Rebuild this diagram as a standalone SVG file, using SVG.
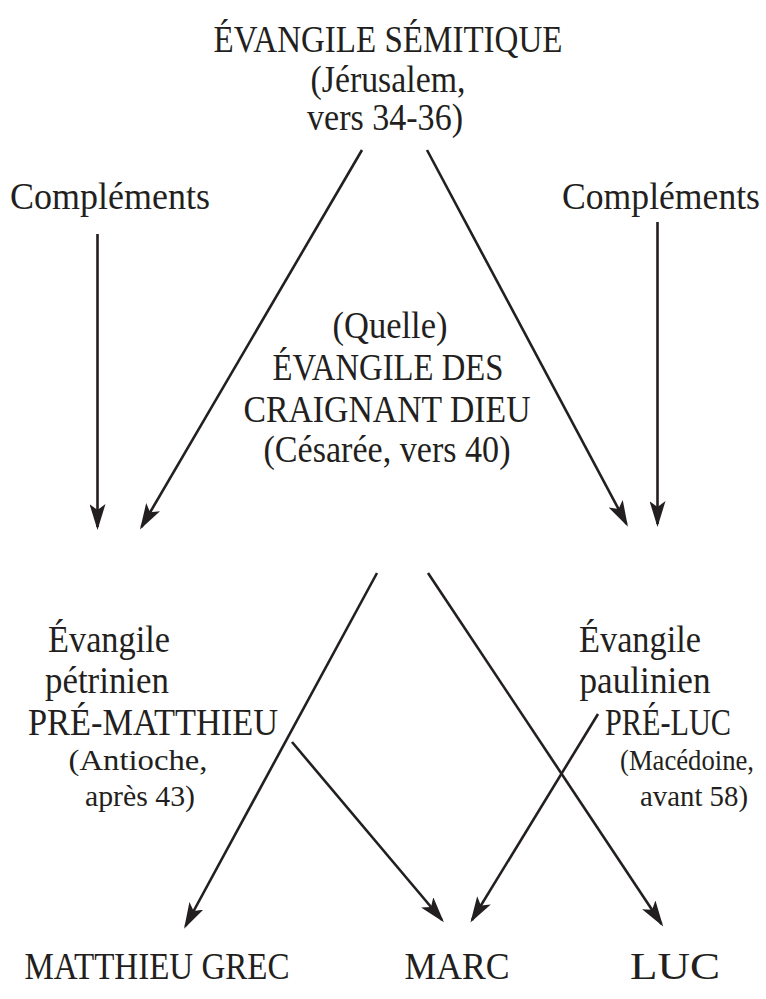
<svg xmlns="http://www.w3.org/2000/svg" width="766" height="999" viewBox="0 0 766 999">
<style>
  text { font-family: "Liberation Serif", "Times New Roman", serif; fill: #231f20; text-anchor: middle; }
  .t { font-size: 37px; }
  .s { font-size: 29px; }
  .c line { stroke: #231f20; stroke-width: 2.6; marker-end: url(#ah); }
</style>
<defs>
  <marker id="ah" markerUnits="userSpaceOnUse" markerWidth="27" markerHeight="16" refX="23" refY="8" orient="auto" viewBox="0 0 27 16">
    <path d="M0,0 L26,8 L0,16 L6,8 Z" fill="#231f20"/>
  </marker>
</defs>
<rect width="766" height="999" fill="#ffffff"/>
<g id="semitique">
  <text class="t" x="388" y="52" textLength="349" lengthAdjust="spacingAndGlyphs">ÉVANGILE SÉMITIQUE</text>
  <text class="t" x="388" y="92" textLength="155" lengthAdjust="spacingAndGlyphs">(Jérusalem,</text>
  <text class="t" x="385" y="130" textLength="156" lengthAdjust="spacingAndGlyphs">vers 34-36)</text>
</g>
<g id="complements-gauche">
  <text class="t" x="110" y="209" textLength="200" lengthAdjust="spacingAndGlyphs">Compléments</text>
</g>
<g id="complements-droite">
  <text class="t" x="661" y="209" textLength="198" lengthAdjust="spacingAndGlyphs">Compléments</text>
</g>
<g id="quelle">
  <text class="t" x="390" y="338" textLength="115" lengthAdjust="spacingAndGlyphs">(Quelle)</text>
  <text class="t" x="388" y="380" textLength="231" lengthAdjust="spacingAndGlyphs">ÉVANGILE DES</text>
  <text class="t" x="387" y="422" textLength="287" lengthAdjust="spacingAndGlyphs">CRAIGNANT DIEU</text>
  <text class="t" x="387" y="462" textLength="247" lengthAdjust="spacingAndGlyphs">(Césarée, vers 40)</text>
</g>
<g id="pre-matthieu">
  <text class="t" x="109" y="652" textLength="122" lengthAdjust="spacingAndGlyphs">Évangile</text>
  <text class="t" x="107" y="693" textLength="124" lengthAdjust="spacingAndGlyphs">pétrinien</text>
  <text class="t" x="153" y="735" textLength="250" lengthAdjust="spacingAndGlyphs">PRÉ-MATTHIEU</text>
  <text class="s" x="138" y="770" textLength="139" lengthAdjust="spacingAndGlyphs">(Antioche,</text>
  <text class="s" x="140" y="806" textLength="110" lengthAdjust="spacingAndGlyphs">après 43)</text>
</g>
<g id="pre-luc">
  <text class="t" x="640" y="652" textLength="122" lengthAdjust="spacingAndGlyphs">Évangile</text>
  <text class="t" x="645" y="693" textLength="131" lengthAdjust="spacingAndGlyphs">paulinien</text>
  <text class="t" x="668" y="735" textLength="126" lengthAdjust="spacingAndGlyphs">PRÉ-LUC</text>
  <text class="s" x="687" y="770" textLength="134" lengthAdjust="spacingAndGlyphs">(Macédoine,</text>
  <text class="s" x="694" y="806" textLength="108" lengthAdjust="spacingAndGlyphs">avant 58)</text>
</g>
<g id="matthieu-grec">
  <text class="t" x="157" y="979" textLength="265" lengthAdjust="spacingAndGlyphs">MATTHIEU GREC</text>
</g>
<g id="marc">
  <text class="t" x="457" y="979" textLength="105" lengthAdjust="spacingAndGlyphs">MARC</text>
</g>
<g id="luc">
  <text class="t" x="675" y="979" textLength="90" lengthAdjust="spacingAndGlyphs">LUC</text>
</g>
<g id="connectors" class="c">
  <line x1="97.5" y1="234" x2="97.5" y2="527"/>
  <line x1="362" y1="150" x2="141.5" y2="527"/>
  <line x1="427" y1="150" x2="626.5" y2="524"/>
  <line x1="657.5" y1="222" x2="657.5" y2="524"/>
  <line x1="377" y1="573" x2="185.5" y2="926"/>
  <line x1="428" y1="573" x2="661.5" y2="924"/>
  <line x1="292" y1="742" x2="442" y2="920"/>
  <line x1="598" y1="714" x2="472" y2="920"/>
</g>
</svg>
